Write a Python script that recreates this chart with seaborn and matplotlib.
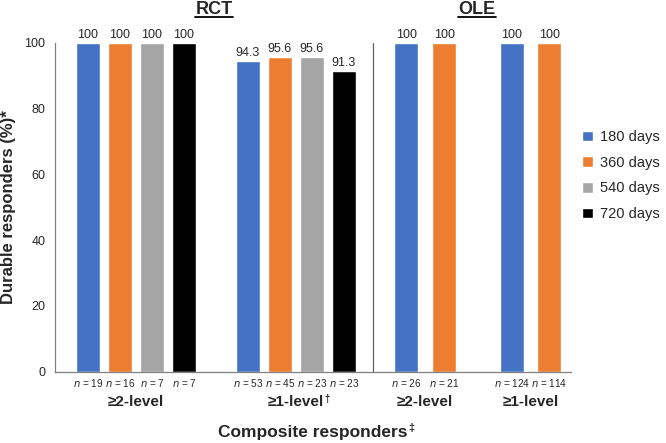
import matplotlib
matplotlib.use("Agg")
import matplotlib.pyplot as plt
from matplotlib.lines import Line2D
import matplotlib.transforms as mtransforms
import seaborn as sns
import pandas as pd

# ---- data ----
timepoints = ["180 days", "360 days", "540 days", "720 days"]
colors = ["#4472C4", "#ED7D31", "#A5A5A5", "#000000"]

rct_2level = [100, 100, 100, 100]
rct_2level_n = [19, 16, 7, 7]
rct_1level = [94.3, 95.6, 95.6, 91.3]
rct_1level_n = [53, 45, 23, 23]
ole_2level = [100, 100]
ole_2level_n = [26, 21]
ole_1level = [100, 100]
ole_1level_n = [124, 114]

group_names = ["≥2-level", "≥1-level", "≥2-level", "≥1-level"]
group_marks = ["", "†", "", ""]
group_values = [rct_2level, rct_1level, ole_2level, ole_1level]
group_ns = [rct_2level_n, rct_1level_n, ole_2level_n, ole_1level_n]

# ---- layout (positions in axis units) ----
group_starts = [1.03, 6.03, 10.98, 14.27]
group_pitch = [1.0, 1.0, 1.18, 1.18]
divider_x = 9.94
xmax = 16.125

rows = []
for gi, vals in enumerate(group_values):
    for bi, v in enumerate(vals):
        rows.append({"x": group_starts[gi] + bi * group_pitch[gi],
                     "value": v, "time": timepoints[bi],
                     "n": group_ns[gi][bi], "group": gi})
df = pd.DataFrame(rows)

sns.set_style("white")
plt.rcParams["font.family"] = ["Liberation Sans", "DejaVu Sans"]

W, H = 666, 443
fig = plt.figure(figsize=(W / 100, H / 100), dpi=100)
ax_l, ax_r, ax_t, ax_b = 55, 571, 42.7, 371.7
ax = fig.add_axes([ax_l / W, (H - ax_b) / H, (ax_r - ax_l) / W, (ax_b - ax_t) / H])

sns.barplot(data=df, x="x", y="value", hue="time", hue_order=timepoints,
            palette=dict(zip(timepoints, colors)), native_scale=True,
            dodge=False, width=0.75, saturation=1, ax=ax, legend=True)

ax.set_xlim(0, xmax)
ax.set_ylim(0, 100)
ax.set_yticks([0, 20, 40, 60, 80, 100])
ax.set_xticks([])
ax.set_xlabel("")
ax.set_ylabel("Durable responders (%)*", fontsize=12, fontweight="bold", labelpad=6)
ax.tick_params(axis="y", direction="out", length=5, width=0.8, color="#808080",
               labelsize=9, pad=2)
for s in ["top", "right"]:
    ax.spines[s].set_visible(False)
for s in ["left", "bottom"]:
    ax.spines[s].set_color("#808080")
    ax.spines[s].set_linewidth(0.9)

ax.axvline(divider_x, ymin=0, ymax=1, color="#606060", lw=0.9)

# value labels and n labels
trans = mtransforms.blended_transform_factory(ax.transData, ax.transAxes)
for _, r in df.iterrows():
    lab = "100" if r["value"] == 100 else f"{r['value']:.1f}"
    ax.annotate(lab, (r["x"], r["value"]), xytext=(0, 1.5), textcoords="offset points",
                ha="center", va="bottom", fontsize=9, annotation_clip=False)
    ax.text(r["x"], -0.034, f"$\\it{{n}}$ = {int(r['n'])}", transform=trans,
            ha="center", va="center", fontsize=7.2)

sup_targets = []
for gi in range(4):
    k = len(group_values[gi])
    cx = group_starts[gi] + (k - 1) * group_pitch[gi] / 2
    t = ax.text(cx, -0.092, group_names[gi], transform=trans, ha="center",
                va="center", fontsize=11, fontweight="bold")
    if group_marks[gi]:
        sup_targets.append((t, group_marks[gi], 7))

comp = fig.text(313 / W, 1 - 432 / H, "Composite responders", ha="center",
                va="center", fontsize=12.5, fontweight="bold")
sup_targets.append((comp, "‡", 8))

# study titles
titles = [("RCT", 214), ("OLE", 477)]
title_artists = []
for name, px in titles:
    tt = fig.text(px / W, 1 - 9.5 / H, name, ha="center", va="center",
                  fontsize=13, fontweight="bold")
    title_artists.append(tt)

# legend
leg = ax.legend(loc="upper left", bbox_to_anchor=(582 / W, 1 - 130 / H),
                bbox_transform=fig.transFigure, frameon=False, fontsize=10.5,
                handlelength=0.75, handleheight=0.75, handletextpad=0.5,
                labelspacing=0.8, borderaxespad=0, borderpad=0)

fig.canvas.draw()
rend = fig.canvas.get_renderer()
for tt in title_artists:
    bb = tt.get_window_extent(rend)
    fig.add_artist(Line2D([bb.x0, bb.x1], [bb.y0 + 1.5, bb.y0 + 1.5], color="black",
                          lw=1.3, transform=None))
for t, mark, fs in sup_targets:
    bb = t.get_window_extent(rend)
    fig.text(bb.x1 + 0.5, bb.y1 + 1, mark, ha="left", va="top", fontsize=fs,
             fontweight="bold", transform=None)

fig.savefig("out.png", dpi=100, facecolor="white")
